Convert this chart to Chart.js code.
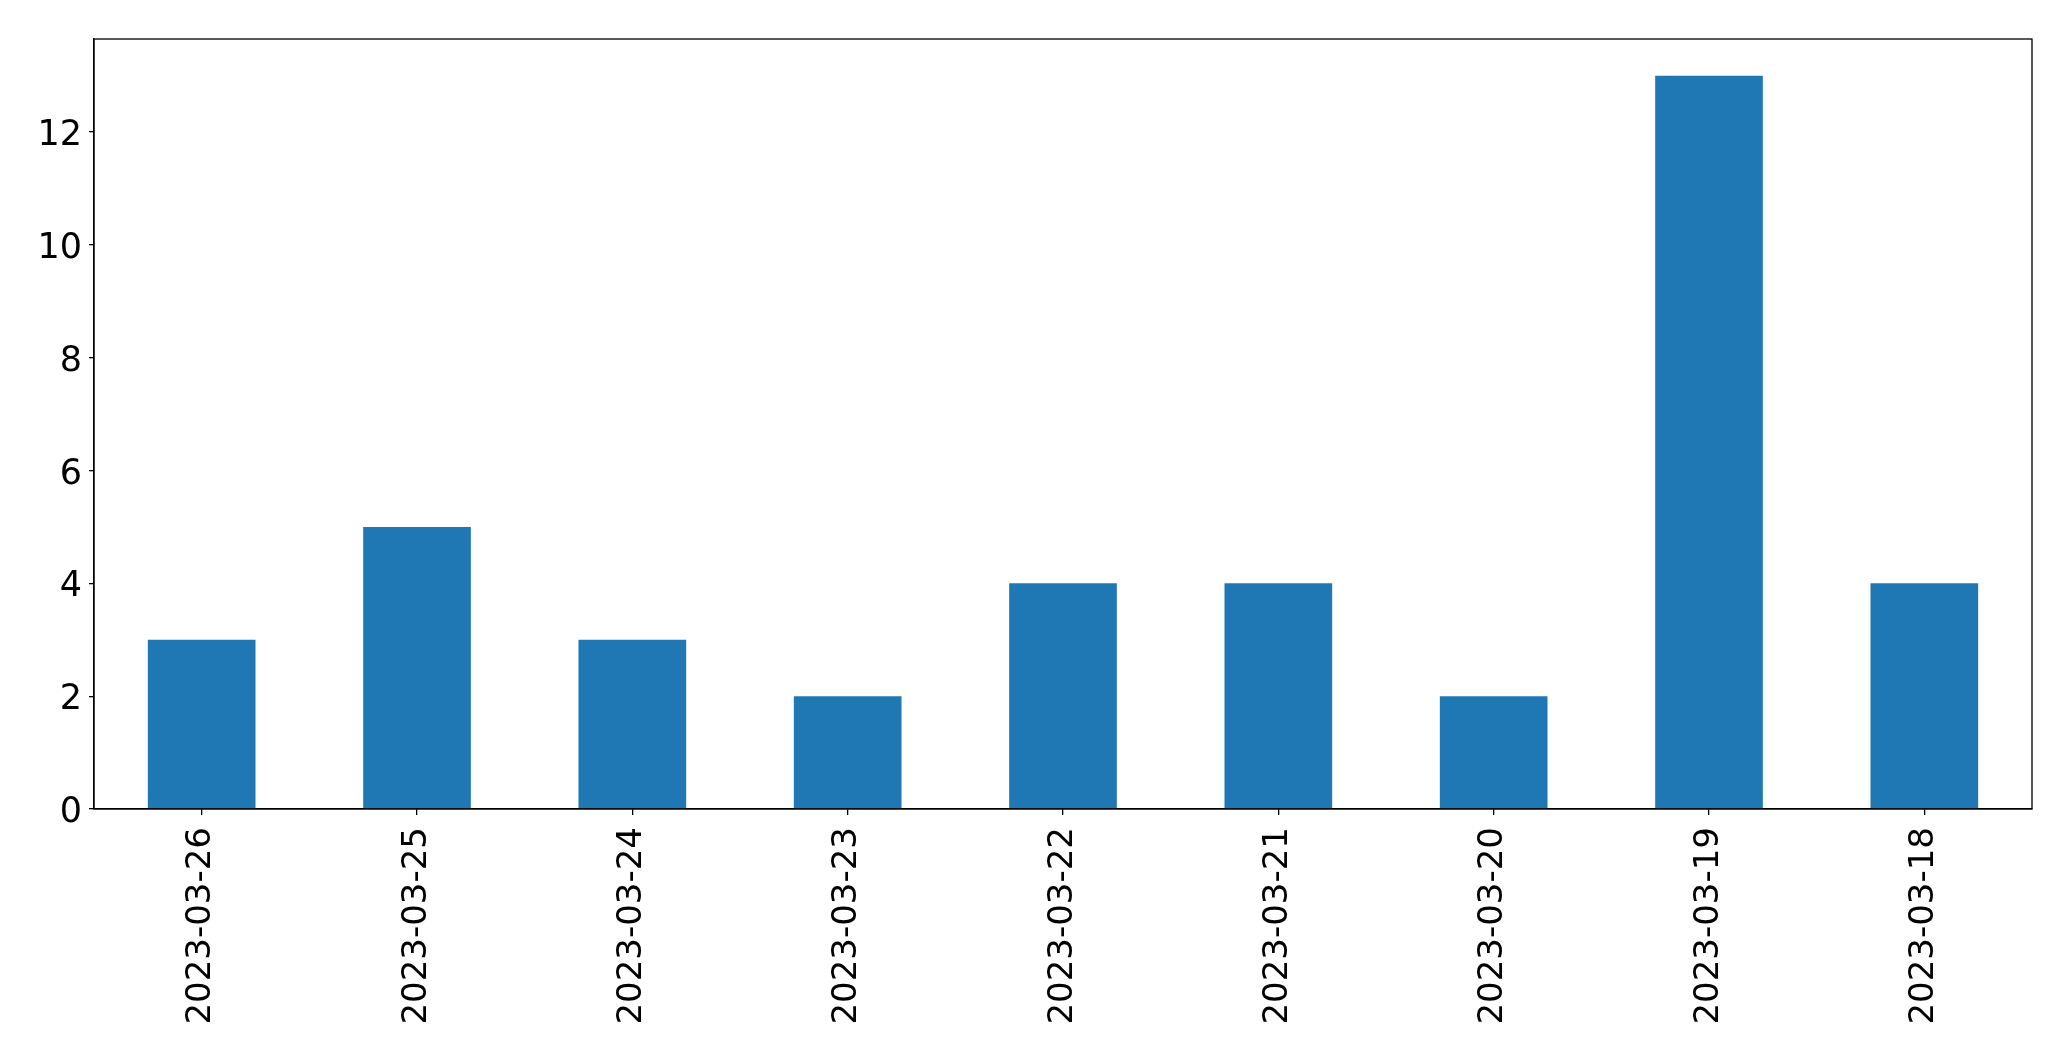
<!DOCTYPE html>
<html>
<head>
<meta charset="utf-8">
<script src="https://cdn.jsdelivr.net/npm/chart.js@4/dist/chart.umd.min.js"></script>
<style>
  html, body { margin: 0; padding: 0; background: #ffffff; }
  #wrap { width: 2071px; height: 1061px; position: relative; }
</style>
</head>
<body>
<div id="wrap"><canvas id="c" width="2071" height="1061"></canvas></div>
<script>
const categories = ["2023-03-26", "2023-03-25", "2023-03-24", "2023-03-23", "2023-03-22", "2023-03-21", "2023-03-20", "2023-03-19", "2023-03-18"];
const counts = [3, 5, 3, 2, 4, 4, 2, 13, 4];
const yTicks = [0, 2, 4, 6, 8, 10, 12];

const FONT = "'DejaVu Sans', sans-serif";

const borderPlugin = {
  id: 'frame',
  afterDatasetsDraw(chart) {
    const a = chart.chartArea;
    const ctx = chart.ctx;
    ctx.save();
    ctx.strokeStyle = '#000000';
    ctx.lineWidth = 1.3;
    ctx.strokeRect(a.left, a.top, a.right - a.left, a.bottom - a.top);
    ctx.restore();
  }
};

new Chart(document.getElementById('c'), {
  type: 'bar',
  data: {
    labels: categories,
    datasets: [{
      data: counts,
      backgroundColor: '#1f77b4',
      borderWidth: 0,
      barPercentage: 0.5,
      categoryPercentage: 1.0
    }]
  },
  options: {
    responsive: false,
    animation: false,
    devicePixelRatio: 1,
    layout: { padding: { top: 39, right: 39, left: 0, bottom: 0 } },
    plugins: { legend: { display: false }, tooltip: { enabled: false } },
    scales: {
      x: {
        offset: true,
        grid: { display: true, offset: false, drawOnChartArea: false, drawTicks: true, tickLength: 6, color: '#000000', lineWidth: 1.3 },
        border: { display: true, color: '#000000', width: 1.3 },
        ticks: {
          color: '#000000',
          font: { family: FONT, size: 34 },
          maxRotation: 90,
          minRotation: 90,
          padding: 12,
          autoSkip: false
        },
        afterFit(scale) { scale.height = 252; }
      },
      y: {
        min: 0,
        max: 13.65,
        grid: { display: true, drawOnChartArea: false, drawTicks: true, tickLength: 5, color: '#000000', lineWidth: 1.3 },
        border: { display: true, color: '#000000', width: 1.3 },
        afterBuildTicks(scale) { scale.ticks = yTicks.map(v => ({ value: v })); },
        ticks: {
          color: '#000000',
          font: { family: FONT, size: 35 },
          padding: 7,
          labelOffset: 4
        },
        afterFit(scale) { scale.width = 94; }
      }
    }
  },
  plugins: [borderPlugin]
});
</script>
</body>
</html>
